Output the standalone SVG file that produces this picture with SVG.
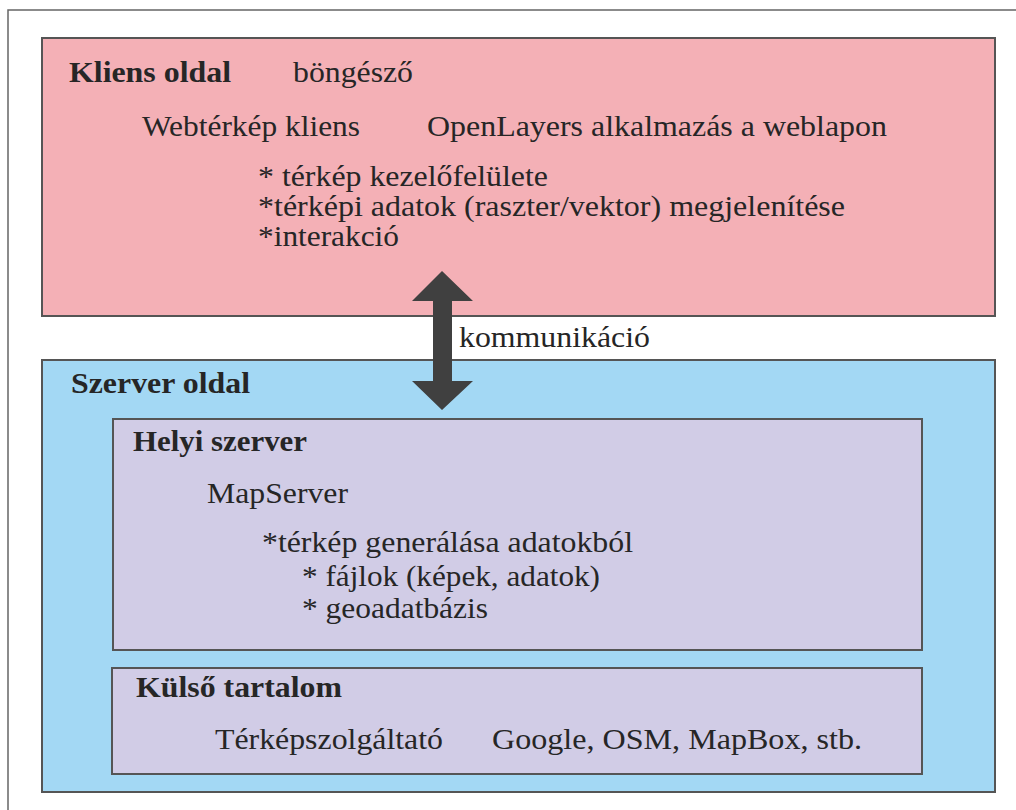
<svg xmlns="http://www.w3.org/2000/svg" width="1016" height="810" viewBox="0 0 1016 810">
<style>
text{font-family:"Liberation Serif","Times New Roman",serif;font-size:30px;fill:#262626}
.b{font-weight:bold}
.box{stroke:#555;stroke-width:2}
</style>
<rect width="1016" height="810" fill="#fff"/>
<rect x="8" y="10" width="1030" height="830" fill="none" stroke="#666" stroke-width="1.5"/>
<g id="kliens">
<rect class="box" x="42" y="38" width="953" height="278" fill="#F4B0B6"/>
<text class="b" x="69" y="82" textLength="162" lengthAdjust="spacingAndGlyphs">Kliens oldal</text>
<text x="293" y="82" textLength="120" lengthAdjust="spacingAndGlyphs">böngésző</text>
<text x="142" y="136" textLength="218" lengthAdjust="spacingAndGlyphs">Webtérkép kliens</text>
<text x="427" y="136" textLength="460" lengthAdjust="spacingAndGlyphs">OpenLayers alkalmazás a weblapon</text>
<text x="258" y="186" textLength="290" lengthAdjust="spacingAndGlyphs">* térkép kezelőfelülete</text>
<text x="258" y="216" textLength="587" lengthAdjust="spacingAndGlyphs">*térképi adatok (raszter/vektor) megjelenítése</text>
<text x="258" y="246" textLength="141" lengthAdjust="spacingAndGlyphs">*interakció</text>
</g>
<g id="szerver">
<rect class="box" x="42" y="360" width="953" height="432" fill="#A3D8F4"/>
<text class="b" x="71" y="393" textLength="179" lengthAdjust="spacingAndGlyphs">Szerver oldal</text>
</g>
<g id="helyi">
<rect class="box" x="113" y="419" width="809" height="231" fill="#D1CCE6"/>
<text class="b" x="133" y="451" textLength="174" lengthAdjust="spacingAndGlyphs">Helyi szerver</text>
<text x="207" y="503" textLength="141" lengthAdjust="spacingAndGlyphs">MapServer</text>
<text x="262" y="552" textLength="371" lengthAdjust="spacingAndGlyphs">*térkép generálása adatokból</text>
<text x="302" y="586" textLength="298" lengthAdjust="spacingAndGlyphs">* fájlok (képek, adatok)</text>
<text x="302" y="618" textLength="186" lengthAdjust="spacingAndGlyphs">* geoadatbázis</text>
</g>
<g id="kulso">
<rect class="box" x="112" y="668" width="810" height="106" fill="#D1CCE6"/>
<text class="b" x="136" y="697" textLength="206" lengthAdjust="spacingAndGlyphs">Külső tartalom</text>
<text x="215" y="749" textLength="228" lengthAdjust="spacingAndGlyphs">Térképszolgáltató</text>
<text x="492" y="749" textLength="370" lengthAdjust="spacingAndGlyphs">Google, OSM, MapBox, stb.</text>
</g>
<g id="connectors">
<polygon points="442,271 473,301 452,301 452,381 473,381 442,410 412,381 433,381 433,301 412,301" fill="#404040"/>
<text x="459" y="347" textLength="191" lengthAdjust="spacingAndGlyphs">kommunikáció</text>
</g>
</svg>
